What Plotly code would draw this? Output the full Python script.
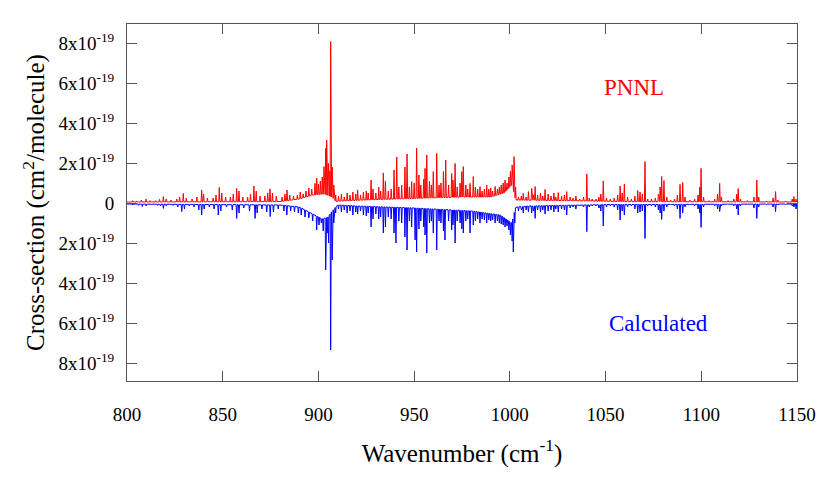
#!/usr/bin/env python

import numpy as np
import plotly.graph_objects as go

SCALE = 1e-19

# PNNL lines: (wavenumber, cross-section in 1e-19 cm^2/molecule)
pnnl_peaks = [
    (803, 0.12), (805, 0.1), (807.5, 0.15), (810, 0.2), (812, 0.12), (815, 0.12), (817, 0.18),
    (819, 0.32), (820.5, 0.2), (823, 0.15), (826, 0.2), (827.5, 0.3), (829.4, 0.48), (831, 0.25),
    (834, 0.2), (836.5, 0.3), (839, 0.65), (840, 0.45), (842, 0.25), (845, 0.25), (846.5, 0.4),
    (848.2, 0.78), (849.5, 0.5), (851.5, 0.3), (854, 0.3), (855.5, 0.45), (857.3, 0.73), (858.5, 0.6),
    (860.5, 0.3), (863, 0.3), (864.5, 0.45), (866.3, 0.85), (867.5, 0.6), (869.5, 0.35), (872, 0.35),
    (873.5, 0.5), (874.7, 0.7), (876, 0.5), (878, 0.35), (881, 0.3), (882.5, 0.45), (883.6, 0.65),
    (885, 0.4), (887, 0.35), (889, 0.4), (890.5, 0.55), (892, 0.45), (893.5, 0.6), (895, 0.75),
    (896.5, 0.7), (898.2, 0.98), (899.1, 1.25), (900, 0.95), (901, 1.1), (902, 1.3), (902.9, 1.82),
    (903.8, 2.73), (904.3, 3.15), (905.2, 1.98), (906.0, 1.6), (906.4, 8.07), (907.2, 1.8),
    (908, 0.9), (909, 0.4),
    (910.5, 0.35), (912, 0.45), (913.5, 0.3), (915, 0.5), (916.5, 0.4), (918, 0.55), (919.5, 0.45),
    (920.5, 0.65), (922, 0.4), (923.5, 0.55), (925, 0.6), (926, 0.5), (927.5, 1.15), (928.5, 0.7),
    (930, 0.5), (931.5, 0.8), (932.5, 0.6), (933.9, 1.5), (935, 1.1), (936.5, 0.6), (938, 0.7),
    (939.5, 1.65), (940.9, 2.3), (942, 0.8), (943.5, 0.9), (945.2, 1.8), (946.3, 2.45), (947.5, 0.8),
    (948.7, 1.07), (950, 1.0), (951.3, 2.75), (952.5, 1.4), (953.5, 0.9), (955, 1.2), (955.7, 1.73),
    (956.6, 2.4), (958, 1.1), (959, 0.9), (960, 1.57), (961.8, 2.48), (963, 0.9), (964, 1.0),
    (965.3, 1.57), (966.5, 2.15), (968, 0.9), (969.6, 1.48), (970.3, 1.15), (971.4, 1.98), (972.5, 0.8),
    (974, 1.0), (974.9, 1.57), (975.7, 1.82), (977, 0.9), (978, 0.7), (979.2, 0.98), (980.9, 1.32),
    (982, 0.8), (983.2, 0.7), (984.4, 0.82), (985.5, 0.6), (986.7, 0.7), (987.9, 0.9), (989, 0.7),
    (990, 0.75), (991, 0.6), (992.3, 0.83), (993.5, 0.7), (994.5, 0.8), (995.5, 0.9), (996.5, 1.0),
    (997.5, 1.15), (998.5, 1.0), (999.5, 1.3), (1000.3, 1.6), (1001.2, 1.9), (1002.2, 2.32), (1003, 0.8),
    (1004.5, 0.3), (1006, 0.35), (1007, 0.48), (1008.5, 0.3), (1009.7, 0.57), (1011.4, 0.73),
    (1012.3, 0.4), (1013.2, 0.82), (1014.5, 0.4), (1016, 0.5), (1017.2, 0.35), (1018.4, 0.68),
    (1020, 0.45), (1021.5, 0.35), (1023, 0.5), (1024, 0.3), (1025.3, 0.52), (1027, 0.35),
    (1028.5, 0.4), (1029.7, 0.57), (1031.5, 0.3), (1033, 0.25), (1034.5, 0.35), (1036.5, 0.2),
    (1038.5, 0.3), (1040.2, 1.45), (1041.5, 0.25), (1043, 0.2), (1045, 0.2), (1046.5, 0.3),
    (1047.5, 0.45), (1048.8, 1.1), (1050.5, 0.25), (1052.5, 0.2), (1054.5, 0.25), (1056.3, 0.4),
    (1057.6, 0.85), (1058.7, 0.5), (1059.8, 0.95), (1061.5, 0.3), (1063.5, 0.2), (1065.3, 0.35),
    (1066.8, 0.62), (1068, 0.55), (1069.2, 0.45), (1070.6, 2.07), (1072, 0.2), (1074, 0.2),
    (1076, 0.25), (1077.6, 0.45), (1078.5, 0.8), (1079.3, 1.32), (1080.5, 1.12), (1082, 0.3),
    (1084, 0.15), (1086, 0.2), (1087.5, 0.4), (1088.9, 0.93), (1090.3, 1.02), (1091.5, 0.3),
    (1094, 0.15), (1096.5, 0.2), (1098.3, 0.4), (1099.2, 0.8), (1099.9, 1.73), (1101.2, 0.3),
    (1104, 0.12), (1107, 0.2), (1108.5, 0.45), (1109.6, 0.98), (1110.5, 0.3), (1114, 0.12),
    (1117, 0.2), (1118.5, 0.45), (1119.3, 0.73), (1120.5, 0.2), (1124, 0.12), (1127.5, 0.3),
    (1129, 1.15), (1130, 0.3), (1134, 0.1), (1137.5, 0.25), (1138.8, 0.57), (1140, 0.15),
    (1144, 0.1), (1147.5, 0.2), (1148.4, 0.32), (1149.5, 0.2),
]
pnnl_floor = [
    (800, 0.05), (880, 0.07), (890, 0.2), (897, 0.4), (903, 0.45), (907, 0.3), (909, 0.08),
    (915, 0.12), (940, 0.2), (975, 0.3), (990, 0.3), (997, 0.5), (1001, 0.9), (1003, 0.15),
    (1030, 0.12), (1060, 0.07), (1150, 0.05),
]

# calculated lines (negative side of the plot)
calc_peaks = [
    (803, -0.1), (806, -0.12), (808, -0.18), (810, -0.15), (813, -0.1), (816, -0.12), (817.5, -0.15),
    (819, -0.27), (820.5, -0.15), (824, -0.12), (826.5, -0.2), (828.6, -0.43), (830, -0.3),
    (832.5, -0.15), (835, -0.2), (837.5, -0.35), (839, -0.6), (840.3, -0.3), (843, -0.2),
    (845.5, -0.3), (847.7, -0.6), (849, -0.4), (852, -0.2), (855, -0.35), (857.3, -0.77),
    (858.5, -0.5), (861, -0.25), (864, -0.4), (866.9, -0.77), (868, -0.5), (870.5, -0.3),
    (873, -0.45), (874.8, -0.68), (876.5, -0.45), (879, -0.3), (882, -0.4), (883.5, -0.6),
    (885.5, -0.4), (887.5, -0.45), (889.5, -0.5), (891, -0.6), (893, -0.7), (895, -0.75),
    (897, -0.9), (899.1, -1.35), (900.3, -1.1), (901.5, -1.0), (902.5, -1.4), (903.8, -3.35),
    (904.6, -1.5), (905.3, -2.0), (906.4, -7.35), (907.2, -2.85), (908, -1.0), (909, -0.5),
    (910.5, -0.3), (912, -0.45), (913.5, -0.35), (915, -0.5), (916.5, -0.4), (918, -0.6),
    (919.5, -0.45), (920.5, -0.55), (922, -0.4), (923.5, -0.6), (925, -0.65), (926, -0.5),
    (927.5, -1.2), (928.5, -0.8), (930, -0.55), (931.5, -0.8), (932.5, -0.7), (933.9, -1.5),
    (935, -1.2), (936.5, -0.7), (938, -0.8), (939.5, -1.5), (940.5, -2.0), (942, -0.9),
    (943.5, -1.0), (945.2, -1.7), (946.3, -2.35), (947.5, -0.9), (948.7, -1.2), (950.5, -1.85),
    (951.3, -2.45), (952.5, -1.3), (953.5, -0.9), (955, -1.2), (955.7, -1.6), (956.6, -2.5),
    (958, -1.0), (959, -0.9), (960, -1.5), (961.8, -2.35), (963, -0.9), (964, -1.0), (965.3, -1.4),
    (966.1, -1.85), (968, -0.9), (969.6, -1.35), (970.3, -1.1), (971.4, -2.0), (972.5, -0.9),
    (974, -1.0), (974.9, -1.3), (975.7, -1.5), (977, -0.9), (978, -0.8), (979.2, -1.5),
    (980.9, -1.1), (982, -0.9), (983.2, -0.8), (984.4, -1.0), (985.5, -0.8), (986.7, -0.85),
    (987.9, -1.0), (989, -0.85), (990, -0.9), (991, -0.85), (992.3, -1.0), (993.5, -0.9),
    (994.5, -1.0), (995.5, -1.05), (996.5, -1.1), (997.5, -1.2), (998.5, -1.15), (999.5, -1.35),
    (1000.3, -1.6), (1001.2, -1.9), (1001.8, -2.45), (1002.6, -1.0),
    (1004.5, -0.4), (1006, -0.35), (1007, -0.5), (1008.5, -0.35), (1009.7, -0.45), (1011.4, -0.5),
    (1012.3, -0.4), (1013.2, -0.77), (1014.5, -0.35), (1016, -0.45), (1017.2, -0.35),
    (1018.4, -0.55), (1020, -0.4), (1021.5, -0.35), (1023, -0.45), (1024, -0.3), (1025.3, -0.45),
    (1027, -0.3), (1028.5, -0.35), (1029.7, -0.6), (1031.5, -0.25), (1033, -0.2), (1034.5, -0.3),
    (1036.5, -0.15), (1038.5, -0.2), (1040.2, -1.43), (1041.5, -0.2), (1043, -0.15), (1045, -0.15),
    (1046.5, -0.25), (1047.5, -0.4), (1048.8, -1.15), (1050.5, -0.2), (1052.5, -0.15),
    (1054.5, -0.2), (1056.3, -0.35), (1057.6, -0.85), (1058.7, -0.4), (1059.8, -0.6),
    (1061.5, -0.2), (1063.5, -0.15), (1065.3, -0.3), (1066.8, -0.5), (1068, -0.45), (1069.2, -0.4),
    (1070.6, -1.77), (1072, -0.15), (1074, -0.15), (1076, -0.2), (1077.6, -0.35), (1078.5, -0.5),
    (1079.3, -0.82), (1080.5, -0.4), (1082, -0.2), (1084, -0.1), (1086, -0.15), (1087.5, -0.3),
    (1088.9, -0.77), (1090.3, -0.5), (1091.5, -0.2), (1094, -0.1), (1096.5, -0.15), (1098.3, -0.3),
    (1099.2, -0.5), (1099.9, -1.22), (1101.2, -0.2), (1104, -0.08), (1107, -0.15), (1108.5, -0.3),
    (1109.6, -0.43), (1110.5, -0.15), (1114, -0.08), (1117, -0.15), (1118.5, -0.3), (1119.3, -0.6),
    (1120.5, -0.15), (1124, -0.08), (1127.5, -0.25), (1129, -0.77), (1130, -0.2), (1134, -0.08),
    (1137.5, -0.2), (1138.8, -0.43), (1140, -0.1), (1144, -0.08), (1147.5, -0.15), (1148.4, -0.2),
    (1149.5, -0.3),
]
calc_floor = [
    (800, -0.05), (880, -0.1), (890, -0.2), (896, -0.5), (902, -0.8), (905, -0.7), (908, -0.3),
    (910, -0.1), (920, -0.15), (950, -0.25), (980, -0.4), (995, -0.6), (1001, -1.0), (1003, -0.2),
    (1010, -0.15), (1050, -0.08), (1150, -0.05),
]

y_ticks = [8, 6, 4, 2, 0, -2, -4, -6, -8]
x_ticks = [800, 850, 900, 950, 1000, 1050, 1100, 1150]


def spectrum(peaks, floor, half=0.3):
    fx = [p[0] for p in floor]
    fy = [p[1] for p in floor]
    xs, ys = [800.0], [fy[0]]
    for c, h in sorted(peaks):
        for x, y in ((c - half, None), (c, h), (c + half, None)):
            xs.append(x)
            ys.append(np.interp(x, fx, fy) if y is None else y)
    xs.append(1150.0)
    ys.append(fy[-1])
    return np.array(xs), np.array(ys) * SCALE


def tick_text(v):
    return "0" if v == 0 else "%dx10<sup>-19</sup>" % abs(v)


serif = "Liberation Serif, DejaVu Serif, serif"
font = dict(family=serif, size=19, color="black")
big = dict(family=serif, size=25, color="black")

fig = go.Figure()
cx, cy = spectrum(calc_peaks, calc_floor)
px, py = spectrum(pnnl_peaks, pnnl_floor)
fig.add_trace(go.Scatter(x=cx, y=cy, mode="lines", line=dict(color="#0000ff", width=1), name="Calculated"))
fig.add_trace(go.Scatter(x=px, y=py, mode="lines", line=dict(color="#ff0000", width=1), name="PNNL"))

fig.add_annotation(x=1065, y=5.8e-19, text="PNNL", showarrow=False,
                   font=dict(family=serif, size=23, color="#ff0000"))
fig.add_annotation(x=1077.5, y=-6.0e-19, text="Calculated", showarrow=False,
                   font=dict(family=serif, size=23, color="#0000ff"))

axis_style = dict(showgrid=False, zeroline=False, showline=True, linecolor="#555555", linewidth=1,
                  mirror="ticks", ticks="inside", ticklen=10, tickcolor="#555555", tickfont=font)

fig.update_xaxes(range=[800, 1150], tickvals=x_ticks, ticklabelstandoff=16,
                 title=dict(text="Wavenumber (cm<sup>-1</sup>)", font=big, standoff=20),
                 **axis_style)
fig.update_yaxes(range=[-8.9e-19, 8.95e-19], tickvals=[v * SCALE for v in y_ticks],
                 ticktext=[tick_text(v) for v in y_ticks], ticklabelstandoff=8,
                 title=dict(text="Cross-section (cm<sup>2</sup>/molecule)", font=big, standoff=6),
                 **axis_style)

# page body adds an 8px offset, so margins are shifted to land the frame where the reference has it
fig.update_layout(width=830, height=498, margin=dict(l=119, r=41, t=16, b=125),
                  plot_bgcolor="white", paper_bgcolor="white", showlegend=False, font=font)

fig.write_html("out.html")
